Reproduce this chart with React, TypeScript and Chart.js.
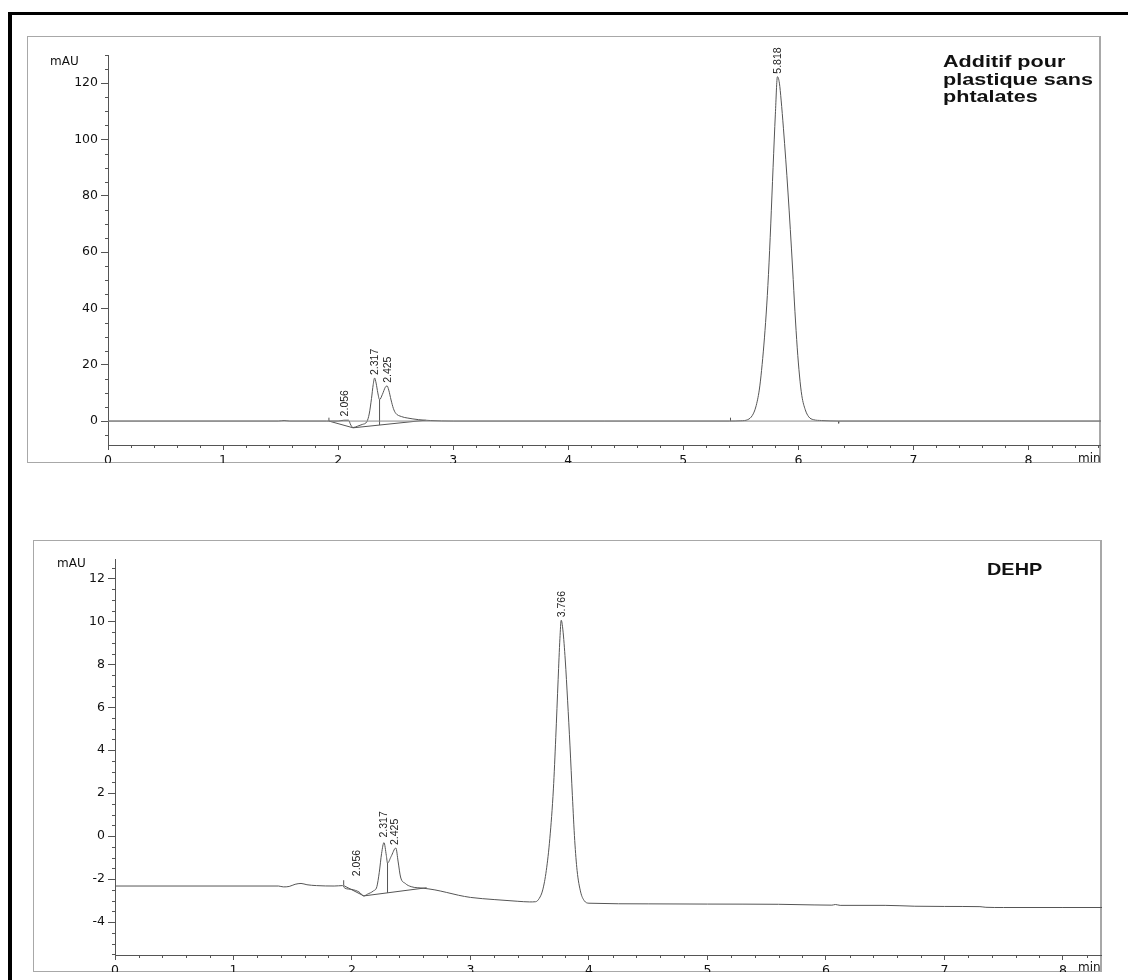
import React, { useEffect, useRef } from "react";
import { Chart, registerables } from "chart.js";

Chart.register(...registerables);

// ---------- Top chromatogram: "Additif pour plastique sans phtalates" ----------
const topTimes = [0, 1.48, 1.53, 1.58, 1.9, 1.92, 2.0, 2.05, 2.09, 2.11, 2.13, 2.17, 2.21, 2.25, 2.27, 2.29, 2.305, 2.317, 2.33, 2.345, 2.36, 2.385, 2.41, 2.425, 2.44, 2.46, 2.48, 2.5, 2.55, 2.6, 2.7, 2.8, 3.0, 5.4, 5.5, 5.56, 5.6, 5.63, 5.66, 5.68, 5.7, 5.72, 5.74, 5.76, 5.78, 5.8, 5.818, 5.835, 5.85, 5.87, 5.89, 5.91, 5.93, 5.95, 5.97, 5.99, 6.01, 6.03, 6.06, 6.09, 6.13, 6.2, 6.35, 8.63];
const topValues = [0, 0, 0.2, 0, 0, 0, 0, 0.3, 0.3, -1.4, -2.3, -1.8, -1.2, -0.2, 2.5, 8, 13, 15.3, 13.5, 10, 7.6, 9.5, 12, 12.5, 11, 7.5, 4.5, 2.8, 1.6, 1.1, 0.5, 0.2, 0, 0, 0.1, 0.5, 2, 5, 11, 18, 27, 38, 52, 70, 90, 109, 122.3, 120, 114, 104, 93, 81, 68, 54, 39, 26, 16, 9, 4, 1.5, 0.5, 0.2, 0, 0];
const topSegX = [[1.92, 2.13], [2.13, 2.76], [2.36, 2.36], [1.92, 1.92], [5.41, 5.41], [6.35, 6.35]];
const topSegY = [[0, -2.4], [-2.4, 0.3], [-1.4, 7.6], [0, 1.2], [0, 1.2], [0, -0.8]];
const topPeakTimes = [2.056, 2.317, 2.425, 5.818];
const topPeakHeights = [0.6, 15.3, 12.5, 122.3];
const topPeakLabels = ["2.056", "2.317", "2.425", "5.818"];
const topXTicks = [0, 1, 2, 3, 4, 5, 6, 7, 8];
const topYTicks = [0, 20, 40, 60, 80, 100, 120];
const topTitle = ["Additif pour", "plastique sans", "phtalates"];

// ---------- Bottom chromatogram: "DEHP" ----------
const botTimes = [0, 1.38, 1.42, 1.47, 1.52, 1.57, 1.62, 1.7, 1.85, 1.92, 1.94, 2.0, 2.06, 2.1, 2.13, 2.18, 2.21, 2.23, 2.25, 2.27, 2.29, 2.3, 2.33, 2.37, 2.39, 2.41, 2.45, 2.5, 2.6, 2.7, 2.8, 2.9, 3.0, 3.2, 3.4, 3.5, 3.55, 3.58, 3.61, 3.64, 3.67, 3.7, 3.72, 3.74, 3.755, 3.766, 3.78, 3.8, 3.82, 3.84, 3.86, 3.88, 3.9, 3.93, 3.96, 4.0, 4.5, 5.0, 5.6, 5.9, 6.05, 6.08, 6.12, 6.5, 6.75, 7.0, 7.3, 7.35, 7.5, 8.0, 8.33];
const botValues = [-2.32, -2.32, -2.36, -2.34, -2.24, -2.2, -2.26, -2.3, -2.32, -2.3, -2.42, -2.48, -2.6, -2.78, -2.7, -2.55, -2.35, -1.7, -0.8, -0.3, -0.9, -1.25, -0.95, -0.55, -1.2, -1.9, -2.2, -2.35, -2.42, -2.5, -2.62, -2.75, -2.85, -2.95, -3.03, -3.06, -3.05, -2.9, -2.5, -1.6, -0.1, 2.2, 4.6, 7.3, 9.2, 10.05, 9.6, 8.2, 6.3, 4.2, 1.9, -0.2, -1.6, -2.6, -3.0, -3.12, -3.15, -3.16, -3.17, -3.2, -3.21, -3.18, -3.22, -3.22, -3.26, -3.27, -3.28, -3.31, -3.32, -3.32, -3.32];
const botSegX = [[1.93, 2.1], [2.1, 2.63], [2.3, 2.3], [1.93, 1.93]];
const botSegY = [[-2.3, -2.78], [-2.78, -2.4], [-2.64, -1.25], [-2.3, -2.05]];
const botPeakTimes = [2.04, 2.265, 2.36, 3.766];
const botPeakHeights = [-2.0, -0.2, -0.55, 10.05];
const botPeakLabels = ["2.056", "2.317", "2.425", "3.766"];
const botXTicks = [0, 1, 2, 3, 4, 5, 6, 7, 8];
const botYTicks = [-4, -2, 0, 2, 4, 6, 8, 10, 12];
const botTitle = ["DEHP"];

type PanelDef = {
  times: number[]; values: number[];
  segX: number[][]; segY: number[][];
  peakTimes: number[]; peakHeights: number[]; peakLabels: string[];
  xTicks: number[]; yTicks: number[]; title: string[];
  zeroLine: boolean;
  layout: {
    left: number; top: number; width: number; height: number;
    yAxisWidth: number; xAxisHeight: number; padTop: number;
    xMax: number; yMin: number; yMax: number; yMinorStep: number; yMajorStep: number;
    titleX: number; titleY: number; titleLine: number; titleScale: number;
    mauX: number; mauY: number; minX: number; minY: number;
  };
};

const panels: PanelDef[] = [
  {
    times: topTimes, values: topValues, segX: topSegX, segY: topSegY,
    peakTimes: topPeakTimes, peakHeights: topPeakHeights, peakLabels: topPeakLabels,
    xTicks: topXTicks, yTicks: topYTicks, title: topTitle, zeroLine: true,
    layout: {
      left: 27, top: 36, width: 1074, height: 427,
      yAxisWidth: 81, xAxisHeight: 18, padTop: 19,
      xMax: 8.63, yMin: -8.5, yMax: 130, yMinorStep: 5, yMajorStep: 20,
      titleX: 916, titleY: 31, titleLine: 17.5, titleScale: 1.27,
      mauX: 23, mauY: 29, minX: 1051, minY: 426,
    },
  },
  {
    times: botTimes, values: botValues, segX: botSegX, segY: botSegY,
    peakTimes: botPeakTimes, peakHeights: botPeakHeights, peakLabels: botPeakLabels,
    xTicks: botXTicks, yTicks: botYTicks, title: botTitle, zeroLine: false,
    layout: {
      left: 33, top: 540, width: 1069, height: 432,
      yAxisWidth: 82, xAxisHeight: 17, padTop: 19,
      xMax: 8.33, yMin: -5.53, yMax: 12.9, yMinorStep: 0.5, yMajorStep: 2,
      titleX: 954, titleY: 35, titleLine: 18, titleScale: 1.17,
      mauX: 24, mauY: 27, minX: 1045, minY: 431,
    },
  },
];

function decorPlugin(p: PanelDef) {
  const L = p.layout;
  return {
    id: "decor",
    afterDraw(chart: any) {
      const { ctx, chartArea } = chart;
      const xs = chart.scales.x;
      const ys = chart.scales.y;
      ctx.save();
      ctx.strokeStyle = "#555";
      ctx.lineWidth = 1;
      ctx.beginPath();
      const nx = Math.floor(L.xMax / 0.2 + 1e-6);
      for (let i = 0; i <= nx; i++) {
        if (i % 5 === 0) continue;
        const px = Math.round(xs.getPixelForValue(i * 0.2)) + 0.5;
        ctx.moveTo(px, chartArea.bottom);
        ctx.lineTo(px, chartArea.bottom + 3);
      }
      const i0 = Math.ceil(L.yMin / L.yMinorStep);
      const i1 = Math.floor(L.yMax / L.yMinorStep);
      for (let i = i0; i <= i1; i++) {
        const v = i * L.yMinorStep;
        const r = v / L.yMajorStep;
        if (Math.abs(r - Math.round(r)) < 1e-6) continue;
        const py = Math.round(ys.getPixelForValue(v)) + 0.5;
        ctx.moveTo(chartArea.left - 3, py);
        ctx.lineTo(chartArea.left, py);
      }
      ctx.stroke();

      ctx.fillStyle = "#111";
      ctx.font = '12px "DejaVu Sans"';
      ctx.textAlign = "left";
      ctx.textBaseline = "alphabetic";
      ctx.fillText("mAU", L.mauX, L.mauY);
      ctx.fillText("min", L.minX, L.minY);

      ctx.font = '10.5px "Liberation Sans"';
      ctx.fillStyle = "#222";
      p.peakTimes.forEach((t, i) => {
        const px = xs.getPixelForValue(t);
        const py = ys.getPixelForValue(p.peakHeights[i]) - 3;
        ctx.save();
        ctx.translate(px + 3.5, py);
        ctx.rotate(-Math.PI / 2);
        ctx.fillText(p.peakLabels[i], 0, 0);
        ctx.restore();
      });

      ctx.save();
      ctx.fillStyle = "#111";
      ctx.font = 'bold 17px "Liberation Sans"';
      ctx.translate(L.titleX, 0);
      ctx.scale(L.titleScale, 1);
      p.title.forEach((line, i) => ctx.fillText(line, 0, L.titleY + i * L.titleLine));
      ctx.restore();
      ctx.restore();
    },
  };
}

function buildConfig(p: PanelDef): any {
  const L = p.layout;
  const signal = p.times.map((t, i) => ({ x: t, y: p.values[i] }));
  const datasets: any[] = [];
  if (p.zeroLine) {
    datasets.push({
      data: [{ x: 0, y: 0 }, { x: L.xMax, y: 0 }],
      borderColor: "#8a8a8a", borderWidth: 1, pointRadius: 0, fill: false,
    });
  }
  datasets.push({
    data: signal, borderColor: "#555", borderWidth: 1, pointRadius: 0, fill: false,
    cubicInterpolationMode: "monotone",
  });
  p.segX.forEach((sx, i) => {
    datasets.push({
      data: [{ x: sx[0], y: p.segY[i][0] }, { x: sx[1], y: p.segY[i][1] }],
      borderColor: "#555", borderWidth: 1, pointRadius: 0, fill: false,
    });
  });
  const tickFont = { family: "DejaVu Sans", size: 12.5 };
  return {
    type: "line",
    data: { datasets },
    options: {
      animation: false,
      responsive: false,
      maintainAspectRatio: false,
      devicePixelRatio: 1,
      layout: { padding: { top: L.padTop, left: 0, right: 0, bottom: 0 } },
      plugins: { legend: { display: false }, tooltip: { enabled: false }, title: { display: false } },
      scales: {
        x: {
          type: "linear", min: 0, max: L.xMax, position: "bottom",
          afterBuildTicks: (s: any) => { s.ticks = p.xTicks.map((v) => ({ value: v })); },
          afterFit: (s: any) => { s.height = L.xAxisHeight; },
          grid: { drawOnChartArea: false, drawTicks: true, tickLength: 5, color: "#555", tickColor: "#555" },
          border: { display: true, color: "#555", width: 1 },
          ticks: { font: tickFont, color: "#111", padding: 3, maxRotation: 0, autoSkip: false, callback: (v: any) => String(v) },
        },
        y: {
          type: "linear", min: L.yMin, max: L.yMax, position: "left",
          afterBuildTicks: (s: any) => { s.ticks = p.yTicks.map((v) => ({ value: v })); },
          afterFit: (s: any) => { s.width = L.yAxisWidth; },
          grid: { drawOnChartArea: false, drawTicks: true, tickLength: 7, color: "#555", tickColor: "#555" },
          border: { display: true, color: "#555", width: 1 },
          ticks: { font: tickFont, color: "#111", padding: 3, autoSkip: false, callback: (v: any) => String(v) },
        },
      },
    },
    plugins: [decorPlugin(p)],
  };
}

function Panel({ def }: { def: PanelDef }) {
  const ref = useRef<HTMLCanvasElement | null>(null);
  useEffect(() => {
    if (!ref.current) return;
    const chart = new Chart(ref.current, buildConfig(def));
    return () => chart.destroy();
  }, [def]);
  const L = def.layout;
  return (
    <>
      <div
        style={{
          position: "absolute", left: L.left, top: L.top, width: L.width, height: L.height,
          boxSizing: "border-box", border: "1px solid #a8a8a8", borderRight: "2px solid #a8a8a8",
        }}
      />
      <canvas
        ref={ref}
        width={L.width}
        height={L.height}
        style={{ position: "absolute", left: L.left, top: L.top, width: L.width, height: L.height }}
      />
    </>
  );
}

export default function App() {
  return (
    <div
      style={{
        position: "fixed", left: 0, top: 0, width: 1128, height: 980,
        background: "#fff", overflow: "hidden",
      }}
    >
      <div
        style={{
          position: "absolute", left: 8, top: 12, width: 1130, height: 1000,
          borderLeft: "4px solid #000", borderTop: "3px solid #000", boxSizing: "border-box",
        }}
      />
      {panels.map((p, i) => (
        <Panel key={i} def={p} />
      ))}
    </div>
  );
}
